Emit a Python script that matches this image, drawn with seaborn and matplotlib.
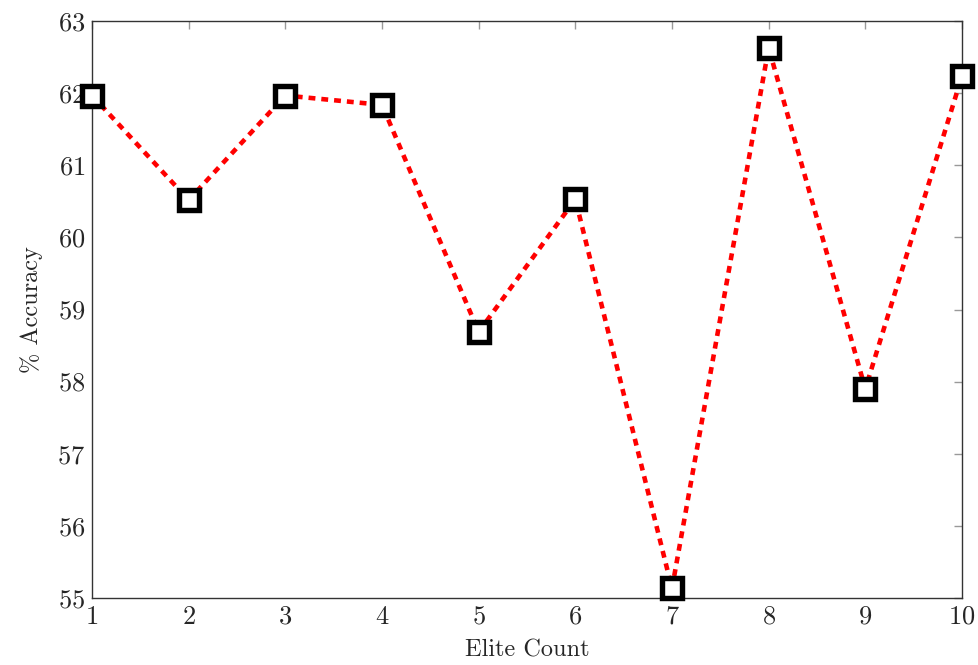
import matplotlib
matplotlib.use("Agg")
import matplotlib.pyplot as plt
import seaborn as sns
import pandas as pd

elite_count = [1, 2, 3, 4, 5, 6, 7, 8, 9, 10]
accuracy = [61.97, 60.52, 61.97, 61.84, 58.69, 60.53, 55.13, 62.63, 57.90, 62.24]
y_ticks = [55, 56, 57, 58, 59, 60, 61, 62, 63]

sns.set_style("white")
plt.rcParams['font.family'] = ['cmr10', 'DejaVu Serif']
plt.rcParams['mathtext.fontset'] = 'cm'
plt.rcParams['axes.formatter.use_mathtext'] = True

df = pd.DataFrame({"Elite Count": elite_count, "% Accuracy": accuracy})

fig = plt.figure(figsize=(9.79, 6.65), dpi=100)
ax = fig.add_axes([0.094, 0.101, 0.8886, 0.867])

sns.lineplot(data=df, x="Elite Count", y="% Accuracy", ax=ax, color="red",
             linewidth=3.3, linestyle=(0, (1.5, 1.3)), marker="s",
             markersize=15, markerfacecolor="white", markeredgecolor="black",
             markeredgewidth=3.9, clip_on=False, zorder=5)

ax.set_xlim(1, 10)
ax.set_ylim(55, 63)
ax.set_xticks(elite_count)
ax.set_yticks(y_ticks)
ax.tick_params(direction="in", length=6, width=1, color="#999999",
               top=True, right=True, labelsize=19, pad=5)
for s in ax.spines.values():
    s.set_color("#333333")
    s.set_linewidth(1.0)
ax.set_xlabel("Elite Count", fontsize=17.5, labelpad=8)
ax.set_ylabel("% Accuracy", fontsize=17.5, labelpad=10)

fig.savefig("out.png", dpi=100)
